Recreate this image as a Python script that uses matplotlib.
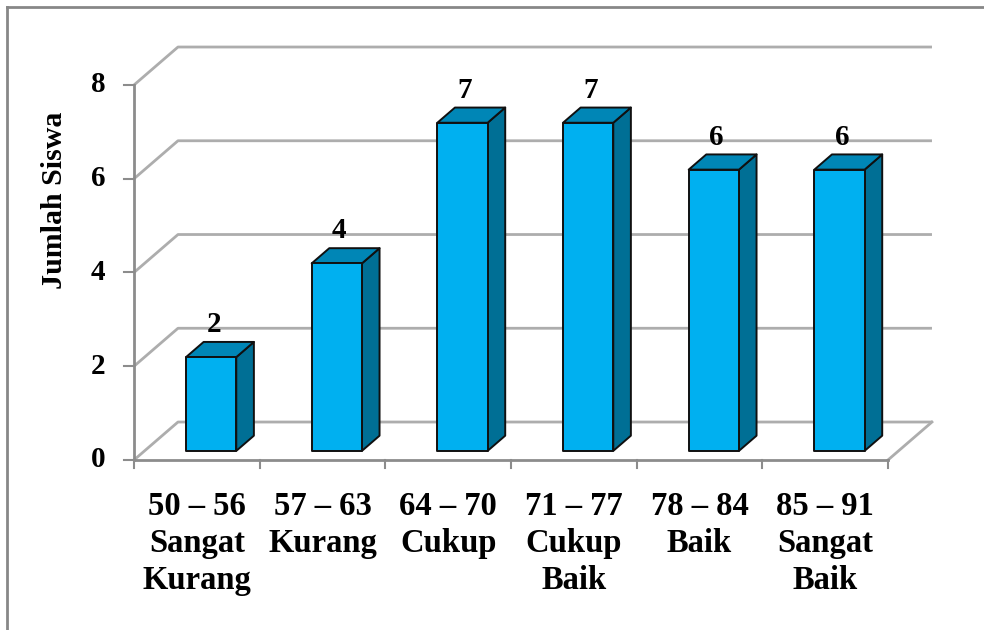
import matplotlib.pyplot as plt
from matplotlib.patches import Polygon
from matplotlib.lines import Line2D

categories = ["50 – 56\nSangat\nKurang", "57 – 63\nKurang", "64 – 70\nCukup",
              "71 – 77\nCukup\nBaik", "78 – 84\nBaik", "85 – 91\nSangat\nBaik"]
jumlah = [2, 4, 7, 7, 6, 6]
y_ticks = [0, 2, 4, 6, 8]
y_title = "Jumlah Siswa"

FONT = "Liberation Serif"
GRID = "#adadad"
AXIS = "#8c8c8c"
FRONT = "#00b0f0"
SIDE = "#006f95"
TOP = "#0086b6"

# oblique depth offset (category units, value units)
DX, DY = 0.35, 0.81
D0, D1 = 0.24, 0.64      # bar depth range
HALF_W = 0.2
SHIFT = 0.03


def proj(x, v, d):
    return (x + DX * d, v + DY * d)


fig = plt.figure(figsize=(9.84, 6.3), dpi=100)
ax = fig.add_axes([0, 0, 1, 1])
ax.set_xlim(-1.0663, 6.764)
ax.set_ylim(-3.627, 9.813)
ax.axis("off")

n = len(categories)

# walls: gridlines on back wall and side wall
for v in y_ticks:
    x0, y0 = proj(0, v, 1)
    x1, y1 = proj(n, v, 1)
    ax.plot([0, x0, x1], [v, y0, y1], color=GRID, lw=2, zorder=1,
            solid_capstyle="butt")
    # tick on the value axis
    ax.plot([-0.08, 0], [v, v], color=AXIS, lw=1.5, zorder=2)
    ax.text(-0.286, v, str(v), ha="center", va="center", fontsize=21,
            fontweight="bold", family=FONT)

# floor front edge and right edge
ax.plot([0, n], [0, 0], color=AXIS, lw=2, zorder=2)
fx, fy = proj(n, 0, 1)
ax.plot([n, fx], [0, fy], color=GRID, lw=2, zorder=1)
for i in range(n + 1):
    ax.plot([i, i], [0, -0.17], color=AXIS, lw=1.5, zorder=2)
ax.plot([0, 0], [0, y_ticks[-1]], color=AXIS, lw=2, zorder=2)

# 3D-style bars
for i, val in enumerate(jumlah):
    c = i + 0.5 + SHIFT
    xl, xr = c - HALF_W, c + HALF_W
    front = [proj(xl, 0, D0), proj(xr, 0, D0), proj(xr, val, D0), proj(xl, val, D0)]
    side = [proj(xr, 0, D0), proj(xr, 0, D1), proj(xr, val, D1), proj(xr, val, D0)]
    top = [proj(xl, val, D0), proj(xr, val, D0), proj(xr, val, D1), proj(xl, val, D1)]
    for pts, col in [(side, SIDE), (top, TOP), (front, FRONT)]:
        ax.add_patch(Polygon(pts, closed=True, facecolor=col, edgecolor="#101010",
                             lw=1.4, joinstyle="round", zorder=3))
    lx, _ = proj(c + 0.02, val, D0)
    _, ly = proj(c, val, D1)
    ax.text(lx, ly + 0.21, str(val), ha="center", va="baseline", fontsize=21,
            fontweight="bold", family=FONT, zorder=4)

# category labels
for i, lab in enumerate(categories):
    ax.text(i + 0.5, -0.66, lab, ha="center", va="top", fontsize=23.5,
            fontweight="bold", family=FONT, linespacing=1.25)

ax.text(-0.629, 5.53, y_title, ha="center", va="center", rotation=90,
        fontsize=21.5, fontweight="bold", family=FONT)

# chart border (top and left)
fig.add_artist(Line2D([7 / 984, 1], [1 - 7 / 630, 1 - 7 / 630], color="#878787", lw=2,
                      transform=fig.transFigure))
fig.add_artist(Line2D([7 / 984, 7 / 984], [0, 1 - 7 / 630], color="#878787", lw=2,
                      transform=fig.transFigure))

fig.savefig("out.png", dpi=100, facecolor="white")
